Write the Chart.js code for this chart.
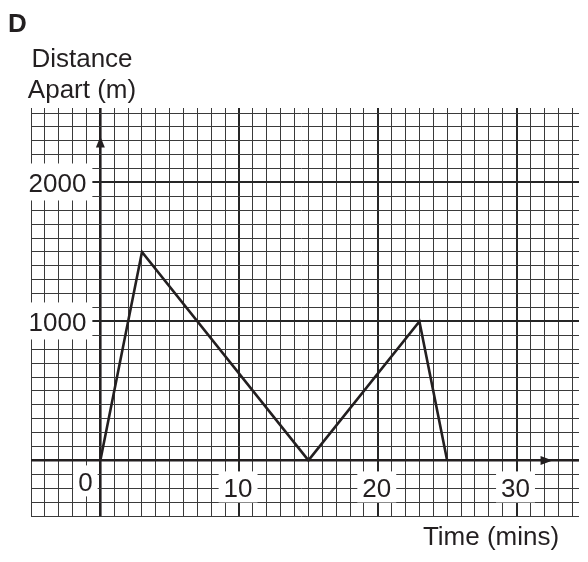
<!DOCTYPE html>
<html><head><meta charset="utf-8">
<script src="https://cdn.jsdelivr.net/npm/chart.js@4.4.1/dist/chart.umd.min.js"></script>
<style>
html,body{margin:0;padding:0;background:#fff;}
#wrap{position:relative;width:588px;height:562px;overflow:hidden;font-family:'Liberation Sans',Arial,sans-serif;color:#231f20;}
canvas{position:absolute;left:0;top:0;}
.t{position:absolute;white-space:nowrap;font-size:26px;line-height:30px;}
</style></head><body>
<div id="wrap">
<canvas id="c" width="588" height="562"></canvas>
<div class="t" style="left:8px;top:8px;font-weight:bold;">D</div>
<div class="t" style="left:2px;top:43px;width:160px;text-align:center;line-height:31px;">Distance<br>Apart (m)</div>
<div class="t" style="left:391px;top:521px;width:200px;text-align:center;">Time (mins)</div>
</div>
<script>
// ---- data ----
const timeMins = [0, 3, 15, 23, 25];
const distanceApart = [0, 1500, 0, 1000, 0];
const xTickValues = [0, 10, 20, 30];
const xTickLabels = ['0', '10', '20', '30'];
const yTickValues = [1000, 2000];
const yTickLabels = ['1000', '2000'];
const xMin = -5, xMax = 34, xStep = 1, xMajor = 10;
const yMin = -400, yMax = 2500, yStep = 100, yMajor = 1000;
const xArrowTip = 32.6, yArrowTip = 2330;

const INK = '#231f20';
const MINOR = '#3a3a3a';
const FONT = '26px "Liberation Sans", Arial, sans-serif';

function gridTicks(min, max, step) {
  const t = [];
  for (let v = min; v <= max + 1e-9; v += step) t.push({ value: Math.round(v * 1000) / 1000 });
  return t;
}
function gridColor(major) {
  return ctx => {
    const v = ctx.tick ? ctx.tick.value : NaN;
    if (v === 0) return INK;
    if (v % major === 0) return '#262626';
    return MINOR;
  };
}
function gridWidth(major) {
  return ctx => {
    const v = ctx.tick ? ctx.tick.value : NaN;
    if (v === 0) return 2.6;
    if (v % major === 0) return 2;
    return 1;
  };
}

const labelPlugin = {
  id: 'axisLabels',
  afterDraw(chart) {
    const ctx = chart.ctx, xs = chart.scales.x, ys = chart.scales.y;
    const x0 = xs.getPixelForValue(0), y0 = ys.getPixelForValue(0);
    ctx.save();
    // arrowheads
    ctx.fillStyle = INK;
    const ty = ys.getPixelForValue(yArrowTip);
    ctx.beginPath(); ctx.moveTo(x0, ty); ctx.lineTo(x0 - 4.5, ty + 11); ctx.lineTo(x0 + 4.5, ty + 11); ctx.closePath(); ctx.fill();
    const tx = xs.getPixelForValue(xArrowTip);
    ctx.beginPath(); ctx.moveTo(tx, y0); ctx.lineTo(tx - 12, y0 - 4.5); ctx.lineTo(tx - 12, y0 + 4.5); ctx.closePath(); ctx.fill();

    ctx.font = FONT;
    ctx.textBaseline = 'alphabetic';
    const capHalf = 0.716 * 26 / 2;
    // y labels
    yTickValues.forEach((v, i) => {
      const txt = yTickLabels[i];
      const py = ys.getPixelForValue(v);
      const right = x0 - 14;
      const w = ctx.measureText(txt).width;
      ctx.fillStyle = '#fff';
      ctx.fillRect(right - w - 5, py - 19, w + 11, 37);
      ctx.fillStyle = INK;
      ctx.textAlign = 'right';
      ctx.fillText(txt, right, py + capHalf);
    });
    // x labels
    xTickValues.forEach((v, i) => {
      const txt = xTickLabels[i];
      let cx = xs.getPixelForValue(v) - 1, cy = y0 + 27;
      if (v === 0) { cx = x0 - 15; cy = y0 + 21; }
      const w = ctx.measureText(txt).width;
      ctx.fillStyle = '#fff';
      ctx.fillRect(cx - w / 2 - 5, cy - 16, w + 10, 31);
      ctx.fillStyle = INK;
      ctx.textAlign = 'center';
      ctx.fillText(txt, cx, cy + capHalf);
    });
    ctx.restore();
  }
};

new Chart(document.getElementById('c'), {
  type: 'line',
  data: {
    datasets: [{
      data: timeMins.map((t, i) => ({ x: t, y: distanceApart[i] })),
      borderColor: INK,
      borderWidth: 2.6,
      borderJoinStyle: 'miter',
      pointRadius: 0,
      tension: 0,
      fill: false
    }]
  },
  options: {
    responsive: false,
    animation: false,
    events: [],
    layout: { padding: { left: 31, right: 9, top: 108, bottom: 46 } },
    plugins: { legend: { display: false }, tooltip: { enabled: false } },
    scales: {
      x: {
        type: 'linear', position: 'top', min: xMin, max: xMax,
        afterBuildTicks: s => { s.ticks = gridTicks(xMin, xMax, xStep); },
        afterFit: s => { s.height = 5; },
        ticks: { display: false },
        border: { display: false },
        grid: { drawTicks: true, tickLength: 5, color: gridColor(xMajor), lineWidth: gridWidth(xMajor) }
      },
      y: {
        type: 'linear', position: 'right', min: yMin, max: yMax,
        afterBuildTicks: s => { s.ticks = gridTicks(yMin, yMax, yStep); },
        afterFit: s => { s.width = 7; },
        ticks: { display: false },
        border: { display: false },
        grid: { drawTicks: true, tickLength: 7, color: gridColor(yMajor), lineWidth: gridWidth(yMajor) }
      }
    }
  },
  plugins: [labelPlugin]
});
</script>
</body></html>
